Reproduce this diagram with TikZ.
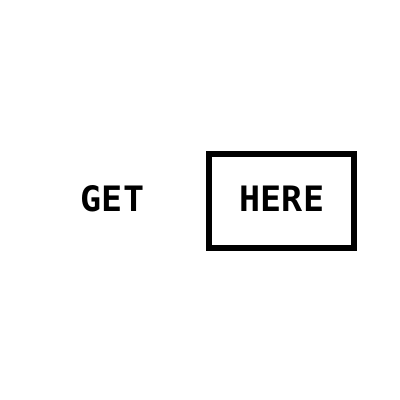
\documentclass[tikz,border=0pt]{standalone}
\usepackage{fontspec}
\setmonofont{DejaVu Sans Mono}
\begin{document}
\begin{tikzpicture}[x=1pt,y=-1pt,
  lbl/.style={font=\ttfamily\bfseries\fontsize{35}{35}\selectfont, inner sep=0pt},
  boxed/.style={draw=black, line width=6pt, minimum width=145.5pt, minimum height=94pt, inner sep=0pt}]
\useasboundingbox (0,0) rectangle (400,400);
\node[lbl] (get) at (112.5,199) {GET};
\node[boxed] (box) at (281.7,201) {};
\node[lbl] (here) at (282,199) {HERE};
\end{tikzpicture}
\end{document}
